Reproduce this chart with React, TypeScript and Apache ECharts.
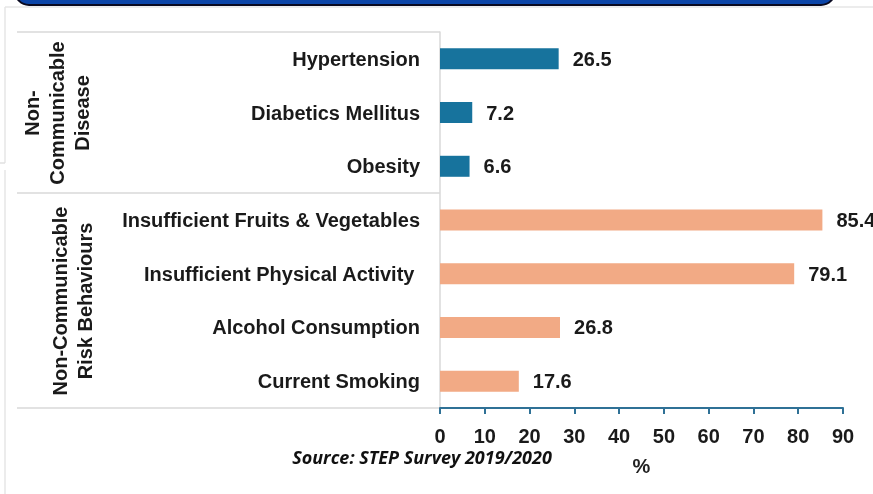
import React, { useEffect, useRef } from "react";
import * as echarts from "echarts";

const categories = [
  "Hypertension",
  "Diabetics Mellitus",
  "Obesity",
  "Insufficient Fruits & Vegetables",
  "Insufficient Physical Activity ",
  "Alcohol Consumption",
  "Current Smoking",
];
const values = [26.5, 7.2, 6.6, 85.4, 79.1, 26.8, 17.6];
const groups = ["disease", "disease", "disease", "risk", "risk", "risk", "risk"];
const groupColors: Record<string, string> = { disease: "#17739d", risk: "#f2aa85" };
const groupLabels = ["Non-\nCommunicable\nDisease", "Non-Communicable\nRisk Behaviours"];
const xTicks = { min: 0, max: 90, interval: 10 };
const sourceText = "Source: STEP Survey 2019/2020";
const axisName = "%";

export default function App() {
  const ref = useRef<HTMLDivElement>(null);
  useEffect(() => {
    if (!ref.current) return;
    const chart = echarts.init(ref.current, null, { renderer: "svg" });
    const grey = "#d9d9d9";
    const font = "Liberation Sans, Arial";
    chart.setOption({
      animation: false,
      grid: { left: 440, right: 30, top: 32, bottom: 86, containLabel: false },
      xAxis: {
        type: "value",
        min: xTicks.min,
        max: xTicks.max,
        interval: xTicks.interval,
        name: axisName,
        nameLocation: "middle",
        nameGap: 48,
        nameTextStyle: { fontFamily: font, fontWeight: "bold", fontSize: 20, color: "#222" },
        axisLine: { show: true, lineStyle: { color: "#2f7196", width: 2 } },
        axisTick: { show: true, length: 6, lineStyle: { color: "#2f7196", width: 2 } },
        axisLabel: { fontFamily: font, fontWeight: "bold", fontSize: 20, color: "#1a1a1a", margin: 18 },
        splitLine: { show: false },
      },
      yAxis: {
        type: "category",
        data: categories,
        inverse: true,
        axisLine: { show: true, lineStyle: { color: grey, width: 1.5 } },
        axisTick: { show: false },
        axisLabel: { fontFamily: font, fontWeight: "bold", fontSize: 20, color: "#1a1a1a", margin: 20 },
      },
      series: [
        {
          type: "bar",
          barWidth: 21,
          data: values.map((v, i) => ({ value: v, itemStyle: { color: groupColors[groups[i]] } })),
          label: {
            show: true,
            position: "right",
            distance: 14,
            fontFamily: font,
            fontWeight: "bold",
            fontSize: 20,
            color: "#1a1a1a",
            formatter: (p: any) => p.value.toFixed(1),
          },
        },
      ],
      graphic: [
        {
          type: "rect",
          shape: { x: 15, y: -20, width: 820, height: 25, r: [0, 0, 14, 14] },
          style: { fill: "#0b45a8", stroke: "#0a0a20", lineWidth: 2 },
        },
        { type: "line", shape: { x1: 5, y1: 7, x2: 873, y2: 7 }, style: { stroke: "#e6e6e6", lineWidth: 1.5 } },
        { type: "line", shape: { x1: 5, y1: 7, x2: 5, y2: 163 }, style: { stroke: "#e6e6e6", lineWidth: 1.5 } },
        { type: "line", shape: { x1: 0, y1: 163, x2: 5, y2: 163 }, style: { stroke: "#e0e0e0", lineWidth: 1.5 } },
        { type: "line", shape: { x1: 5, y1: 170, x2: 5, y2: 494 }, style: { stroke: "#e6e6e6", lineWidth: 1.5 } },
        { type: "line", shape: { x1: 17, y1: 32, x2: 440, y2: 32 }, style: { stroke: grey, lineWidth: 1.5 } },
        { type: "line", shape: { x1: 17, y1: 193, x2: 440, y2: 193 }, style: { stroke: grey, lineWidth: 1.5 } },
        { type: "line", shape: { x1: 17, y1: 408, x2: 440, y2: 408 }, style: { stroke: grey, lineWidth: 1.5 } },
        {
          type: "text",
          x: 57,
          y: 113,
          rotation: Math.PI / 2,
          style: {
            text: groupLabels[0],
            fontFamily: font,
            fontWeight: "bold",
            fontSize: 20,
            lineHeight: 25,
            fill: "#1a1a1a",
            align: "center",
            verticalAlign: "middle",
          },
        },
        {
          type: "text",
          x: 72,
          y: 301,
          rotation: Math.PI / 2,
          style: {
            text: groupLabels[1],
            fontFamily: font,
            fontWeight: "bold",
            fontSize: 20,
            lineHeight: 25,
            fill: "#1a1a1a",
            align: "center",
            verticalAlign: "middle",
          },
        },
        {
          type: "text",
          x: 422,
          y: 457,
          style: {
            text: sourceText,
            fontFamily: "Open Sans",
            fontWeight: "bold",
            fontStyle: "italic",
            fontSize: 18,
            fill: "#111",
            align: "center",
            verticalAlign: "middle",
          },
        },
      ],
    });
    return () => chart.dispose();
  }, []);
  return <div ref={ref} style={{ width: 873, height: 494, position: "fixed", left: 0, top: 0 }} />;
}
